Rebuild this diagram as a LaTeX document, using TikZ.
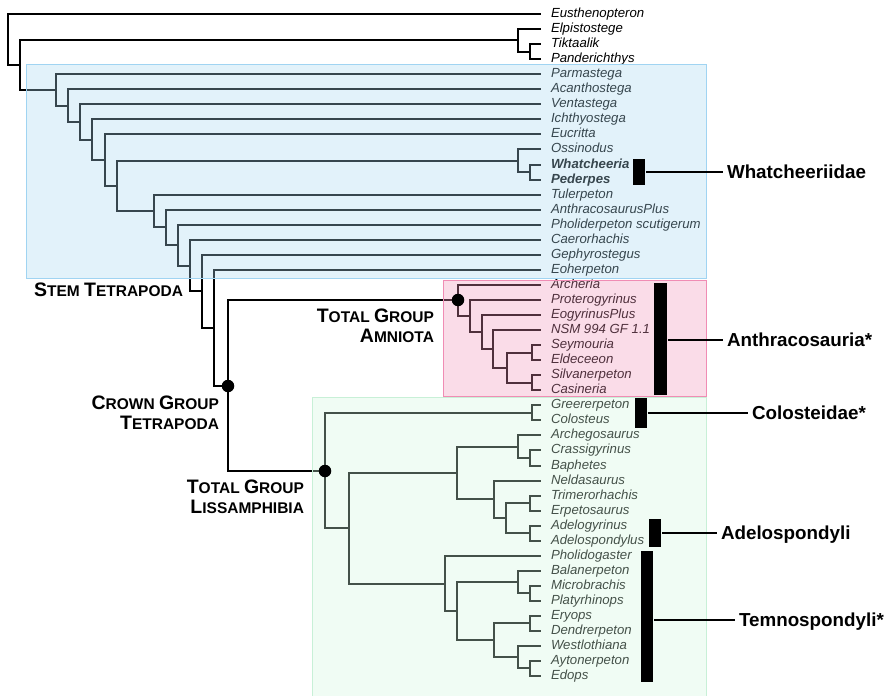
\documentclass[tikz,border=0pt]{standalone}
\usepackage{fontspec}
\setmainfont{Liberation Sans}

\definecolor{stemfill}{RGB}{167,215,239}
\definecolor{stemedge}{RGB}{160,212,242}
\definecolor{amnfill}{RGB}{240,148,185}
\definecolor{amnedge}{RGB}{240,140,180}
\definecolor{lisfill}{RGB}{209,246,222}
\definecolor{lisedge}{RGB}{200,240,215}

% big first letter, rest in the smaller caps size
\newcommand\capsc[2]{{\fontsize{19.5}{20}\selectfont #1}#2}

\begin{document}
\begin{tikzpicture}[x=1pt, y=-1pt, line width=2pt,
  tip/.style={anchor=west, inner xsep=9pt, inner ysep=0pt, text height=9.5pt, text depth=2.8pt,
    font=\fontsize{13.2}{14}\selectfont\itshape},
  clade/.style={anchor=east, align=right, inner sep=0pt, font=\bfseries\fontsize{15.5}{20}\selectfont},
  bar/.style={fill=black, inner sep=0pt, minimum width=12pt},
  group/.style={anchor=west, inner xsep=3pt, inner ysep=0pt, text height=13.5pt, text depth=0pt,
    font=\bfseries\fontsize{18.8}{20}\selectfont},
  dot/.style={circle, fill=black, inner sep=0pt, minimum size=12.5pt},
  box/.style={line width=1pt, fill opacity=.33}]
\useasboundingbox (0,0) rectangle (884,696);

% taxa, one row each
\foreach \id/\taxon [count=\i] in {eus/Eusthenopteron, elp/Elpistostege, tik/Tiktaalik, pan/Panderichthys,
  parm/Parmastega, acan/Acanthostega, vent/Ventastega, ich/Ichthyostega, euc/Eucritta, oss/Ossinodus,
  wha/{\textbf{Whatcheeria}}, ped/{\textbf{Pederpes}}, tul/Tulerpeton, anth/AnthracosaurusPlus,
  phol/{Pholiderpeton scutigerum}, caer/Caerorhachis, geph/Gephyrostegus, eoh/Eoherpeton,
  arch/Archeria, prot/Proterogyrinus, eogy/EogyrinusPlus, nsm/{NSM 994 GF 1.1}, sey/Seymouria,
  eld/Eldeceeon, silv/Silvanerpeton, cas/Casineria, gree/Greererpeton, col/Colosteus,
  archg/Archegosaurus, crass/Crassigyrinus, baph/Baphetes, neld/Neldasaurus, trim/Trimerorhachis,
  erp/Erpetosaurus, adelg/Adelogyrinus, adelsp/Adelospondylus, pholg/Pholidogaster,
  bal/Balanerpeton, micro/Microbrachis, platy/Platyrhinops, ery/Eryops, dend/Dendrerpeton,
  wes/Westlothiana, ayt/Aytonerpeton, edo/Edops}
  \node[tip] (\id) at (541, {round(15.05*\i-1.05)}) {\taxon};

% internal nodes
\coordinate (r0) at (8,40);    \coordinate (r1) at (20,65);
\coordinate (n1) at (518,40);  \coordinate (n2) at (530,52);
\coordinate (t1) at (56,90);   \coordinate (t2) at (68,106);
\coordinate (t3) at (80,122);  \coordinate (s1) at (92,140);
\coordinate (s2) at (105,160); \coordinate (s3) at (117,186);
\coordinate (w0) at (518,161); \coordinate (w1) at (530,172);
\coordinate (s4) at (154,211); \coordinate (s5) at (166,227);
\coordinate (s6) at (178,245); \coordinate (s7) at (190,266);
\coordinate (s8) at (202,291); \coordinate (s9) at (214,328);
\coordinate (c0) at (228,386);
\coordinate (a0) at (458,300); \coordinate (a1) at (470,316);
\coordinate (a2) at (482,332); \coordinate (a3) at (493,349);
\coordinate (a4) at (507,368); \coordinate (a5) at (532,353);
\coordinate (a6) at (532,383);
\coordinate (l0) at (325,471); \coordinate (l1) at (532,413);
\coordinate (l2) at (349,528); \coordinate (l3) at (457,473);
\coordinate (l4) at (518,447); \coordinate (l4b) at (530,458);
\coordinate (l5) at (494,499); \coordinate (l6) at (506,518);
\coordinate (l6a) at (530,503); \coordinate (l6b) at (530,533);
\coordinate (l8) at (445,584); \coordinate (l9) at (457,611);
\coordinate (l10) at (518,582); \coordinate (l10a) at (530,593);
\coordinate (l11) at (494,640); \coordinate (l11a) at (530,623);
\coordinate (l11b) at (518,657); \coordinate (l11c) at (530,668);

% branches
\foreach \up/\dn in {r0/eus.west, r0/r1, r1/n1, r1/t1, n1/elp.west, n1/n2, n2/tik.west, n2/pan.west,
  t1/parm.west, t1/t2, t2/acan.west, t2/t3, t3/vent.west, t3/s1, s1/ich.west, s1/s2,
  s2/euc.west, s2/s3, s3/w0, s3/s4, w0/oss.west, w0/w1, w1/wha.west, w1/ped.west,
  s4/tul.west, s4/s5, s5/anth.west, s5/s6, s6/phol.west, s6/s7, s7/caer.west, s7/s8,
  s8/geph.west, s8/s9, s9/eoh.west, s9/c0, c0/a0, c0/l0,
  a0/arch.west, a0/a1, a1/prot.west, a1/a2, a2/eogy.west, a2/a3, a3/nsm.west, a3/a4,
  a4/a5, a4/a6, a5/sey.west, a5/eld.west, a6/silv.west, a6/cas.west,
  l0/l1, l0/l2, l1/gree.west, l1/col.west, l2/l3, l2/l8, l3/l4, l3/l5,
  l4/archg.west, l4/l4b, l4b/crass.west, l4b/baph.west, l5/neld.west, l5/l6,
  l6/l6a, l6/l6b, l6a/trim.west, l6a/erp.west, l6b/adelg.west, l6b/adelsp.west,
  l8/pholg.west, l8/l9, l9/l10, l9/l11, l10/bal.west, l10/l10a, l10a/micro.west, l10a/platy.west,
  l11/l11a, l11/l11b, l11a/ery.west, l11a/dend.west, l11b/wes.west, l11b/l11c,
  l11c/ayt.west, l11c/edo.west}
  \draw (\up) |- (\dn);

% shaded groups
\draw[box, draw=stemedge, fill=stemfill] (26,64) rectangle (706,278);
\draw[box, draw=amnedge, fill=amnfill] (443,280) rectangle (706,396);
\draw[box, draw=lisedge, fill=lisfill] (312,397.5) rectangle (706,700);

\node[dot] (crown) at (c0) {};
\node[dot] (amnio) at (a0) {};
\node[dot] (lissa) at (l0) {};

\node[clade] (stemlab) at (184,290) {\capsc{S}{TEM} \capsc{T}{ETRAPODA}};
\node[clade] (crownlab) at (220,413) {\capsc{C}{ROWN} \capsc{G}{ROUP}\\\capsc{T}{ETRAPODA}};
\node[clade] (amniolab) at (435,326) {\capsc{T}{OTAL} \capsc{G}{ROUP}\\\capsc{A}{MNIOTA}};
\node[clade] (lissalab) at (305,497) {\capsc{T}{OTAL} \capsc{G}{ROUP}\\\capsc{L}{ISSAMPHIBIA}};

% group bars
\node[bar, minimum height=26pt] (bar-wha) at (639,172) {};
\node[bar, minimum height=112pt, minimum width=12.5pt] (bar-anth) at (660.5,339) {};
\node[bar, minimum height=30pt] (bar-col) at (640.5,413) {};
\node[bar, minimum height=28pt] (bar-adel) at (655,533) {};
\node[bar, minimum height=131pt] (bar-temno) at (647,616.5) {};

\node[group] (lab-wha) at (723,172) {Whatcheeriidae};
\node[group] (lab-anth) at (723,340) {Anthracosauria*};
\node[group] (lab-col) at (748,413) {Colosteidae*};
\node[group] (lab-adel) at (717,533) {Adelospondyli};
\node[group] (lab-temno) at (735,620) {Temnospondyli*};

\foreach \g in {wha, anth, col, adel, temno}
  \draw (bar-\g.east |- lab-\g.west) -- (lab-\g.west);
\end{tikzpicture}
\end{document}
